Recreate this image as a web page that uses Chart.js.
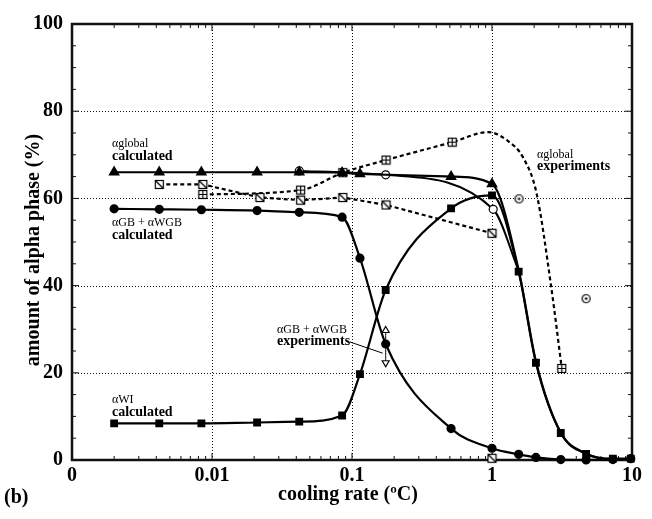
<!DOCTYPE html>
<html>
<head>
<meta charset="utf-8">
<style>
  html, body { margin: 0; padding: 0; background: #fff; }
  #wrap { width: 652px; height: 519px; }
</style>
</head>
<body>
<div id="wrap"><canvas id="chart" width="652" height="519"></canvas></div>

<script src="https://cdn.jsdelivr.net/npm/chart.js"></script>
<script>
// x tick positions and their printed labels (the axis starts at 0.001 printed as "0")
const xTickVals = [0.001, 0.01, 0.1, 1, 10];
const xTickLabels = ['0', '0.01', '0.1', '1', '10'];

// calculated curves (solid lines)
const calcRates = [0.002, 0.0042, 0.0084, 0.021, 0.042, 0.085, 0.114, 0.174, 0.51, 1.0, 1.55, 2.06, 3.1, 4.7, 7.3, 9.8];
const globalCalc = [66.0, 66.0, 66.0, 66.0, 66.0, 65.9, 65.6, null, 65.0, 63.3, 43.6, 22.6, 6.3, 1.5, 0.2, 0.2];
const gbCalc = [57.6, 57.5, 57.4, 57.2, 56.8, 55.7, 46.3, 26.6, 7.2, 2.7, 1.3, 0.6, 0.1, 0.0, 0.1, 0.3];
const wiCalc = [8.4, 8.4, 8.4, 8.6, 8.8, 10.2, 19.7, 39.0, 57.7, 60.7, 43.2, 22.3, 6.2, 1.4, 0.3, 0.3];

// open circle curve
const openRates = [0.042, 0.174, 1.02, 1.55];
const openVals = [66.3, 65.4, 57.5, 43.4];

// experiments, dashed
const expARates = [0.0042, 0.0086, 0.022, 0.043, 0.086, 0.175, 1.0];
const expAVals = [63.2, 63.2, 60.2, 59.6, 60.2, 58.5, 52.0];
const expBRates = [0.0086, 0.043, 0.086, 0.175, 0.52, 0.94, 1.27, 1.68, 2.08, 2.64, 3.15];
const expBVals = [60.9, 61.9, 65.9, 68.8, 72.9, 75.2, 73.4, 69.2, 61.2, 40.0, 21.0];
const expBMarked = [true, true, true, true, true, false, false, false, false, false, true];

// isolated experiment points
const dotRates = [1.56, 4.7];
const dotVals = [59.9, 37.0];
const barRates = [0.174, 0.174];
const barVals = [29.7, 22.3];
const smallRates = [1.0];
const smallVals = [0.4];

const pts = (xs, ys) => xs.map((x, i) => ({ x: x, y: ys[i] }));

function marker(kind) {
  const c = document.createElement('canvas');
  c.width = 11; c.height = 11;
  const g = c.getContext('2d');
  g.strokeStyle = '#000';
  g.lineWidth = 1.2;
  g.fillStyle = '#fff';
  if (kind === 'dot') {
    g.beginPath(); g.arc(5.5, 5.5, 4, 0, Math.PI * 2); g.fill(); g.stroke();
    g.fillStyle = '#000'; g.beginPath(); g.arc(5.5, 5.5, 1.3, 0, Math.PI * 2); g.fill();
    return c;
  }
  g.fillRect(1, 1, 9, 9);
  g.strokeRect(1.5, 1.5, 8, 8);
  g.beginPath();
  if (kind === 'slash') {
    g.moveTo(2, 2); g.lineTo(9, 9);
  } else {
    g.moveTo(5.5, 2); g.lineTo(5.5, 9); g.moveTo(2, 5.5); g.lineTo(9, 5.5);
  }
  g.stroke();
  return c;
}
const slashBox = marker('slash');
const plusBox = marker('plus');
const dotCircle = marker('dot');

const serif = '"Liberation Serif", "Times New Roman", serif';

// texts on the plot
const notes = [
  { t: '\u03b1global', x: 112, y: 144, bold: false },
  { t: 'calculated', x: 112, y: 156, bold: true },
  { t: '\u03b1GB + \u03b1WGB', x: 112, y: 223, bold: false },
  { t: 'calculated', x: 112, y: 235, bold: true },
  { t: '\u03b1WI', x: 112, y: 400, bold: false },
  { t: 'calculated', x: 112, y: 412, bold: true },
  { t: '\u03b1GB + \u03b1WGB', x: 277, y: 330, bold: false },
  { t: 'experiments', x: 277, y: 341, bold: true },
  { t: '\u03b1global', x: 537, y: 155, bold: false },
  { t: 'experiments', x: 537, y: 166, bold: true }
];

const framePlugin = {
  id: 'frame',
  beforeDatasetsDraw(chart) {
    const { ctx, chartArea: a, scales } = chart;
    ctx.save();
    // dotted grid
    ctx.strokeStyle = '#111';
    ctx.lineWidth = 1;
    ctx.setLineDash([1, 2]);
    ctx.beginPath();
    [0.01, 0.1, 1].forEach(v => {
      const px = Math.round(scales.x.getPixelForValue(v)) + 0.5;
      ctx.moveTo(px, a.top); ctx.lineTo(px, a.bottom);
    });
    [20, 40, 60, 80].forEach(v => {
      const py = Math.round(scales.y.getPixelForValue(v)) + 0.5;
      ctx.moveTo(a.left, py); ctx.lineTo(a.right, py);
    });
    ctx.stroke();
    ctx.setLineDash([]);
    ctx.beginPath();
    // minor ticks on x
    for (let e = -3; e <= 0; e++) {
      for (let k = 1; k <= 9; k++) {
        const v = k * Math.pow(10, e);
        const px = scales.x.getPixelForValue(v);
        const len = k === 1 ? 7 : 4;
        ctx.moveTo(px, a.bottom); ctx.lineTo(px, a.bottom - len);
        ctx.moveTo(px, a.top); ctx.lineTo(px, a.top + len);
      }
    }
    // minor ticks on y
    for (let v = 0; v <= 100; v += 5) {
      const py = scales.y.getPixelForValue(v);
      const len = v % 20 === 0 ? 7 : 4;
      ctx.moveTo(a.left, py); ctx.lineTo(a.left + len, py);
      ctx.moveTo(a.right, py); ctx.lineTo(a.right - len, py);
    }
    ctx.stroke();
    ctx.lineWidth = 2.5;
    ctx.strokeRect(a.left, a.top, a.right - a.left, a.bottom - a.top);
    ctx.restore();
  },
  afterDraw(chart) {
    const { ctx, chartArea: a, scales } = chart;
    ctx.save();
    ctx.fillStyle = '#000';
    ctx.textBaseline = 'middle';
    ctx.textAlign = 'left';
    notes.forEach(n => {
      ctx.font = (n.bold ? 'bold 14px ' : '12px ') + serif;
      ctx.fillText(n.t, n.x, n.y);
    });
    // leader line to the error bar
    ctx.strokeStyle = '#000';
    ctx.lineWidth = 1;
    ctx.beginPath();
    ctx.moveTo(350, 342);
    ctx.lineTo(scales.x.getPixelForValue(0.174) - 3, scales.y.getPixelForValue(24.5));
    ctx.stroke();
    // axis titles
    ctx.font = 'bold 20px ' + serif;
    ctx.textAlign = 'center';
    ctx.fillText('cooling rate (\u00baC)', (a.left + a.right) / 2 - 4, 495);
    ctx.textAlign = 'left';
    ctx.fillText('(b)', 4, 498);
    ctx.translate(34, (a.top + a.bottom) / 2 + 8);
    ctx.rotate(-Math.PI / 2);
    ctx.textAlign = 'center';
    ctx.fillText('amount of alpha phase (%)', 0, 0);
    ctx.restore();
  }
};

const solid = { borderColor: '#000', backgroundColor: '#000', pointBorderColor: '#000', pointBackgroundColor: '#000', borderWidth: 2.2, cubicInterpolationMode: 'monotone', clip: false, spanGaps: true };

new Chart(document.getElementById('chart'), {
  type: 'line',
  data: {
    datasets: [
      Object.assign({}, solid, {
        label: 'alpha global calculated', data: pts(calcRates, globalCalc),
        pointStyle: 'triangle', pointRadius: ctx => ctx.dataIndex > 9 ? 0 : 4.5
      }),
      Object.assign({}, solid, {
        label: 'alpha GB + WGB calculated', data: pts(calcRates, gbCalc),
        pointStyle: 'circle', pointRadius: 3.5
      }),
      Object.assign({}, solid, {
        label: 'alpha WI calculated', data: pts(calcRates, wiCalc),
        pointStyle: 'rect', pointRadius: 4
      }),
      Object.assign({}, solid, {
        label: 'open circles', data: pts(openRates, openVals), borderWidth: 2,
        pointStyle: 'circle', pointBackgroundColor: '#fff', pointBorderWidth: 1.2,
        pointRadius: ctx => ctx.dataIndex === 3 ? 0 : 4
      }),
      Object.assign({}, solid, {
        label: 'exp slash', data: pts(expARates, expAVals), borderDash: [4, 3],
        pointStyle: slashBox, cubicInterpolationMode: 'default'
      }),
      Object.assign({}, solid, {
        label: 'alpha global experiments', data: pts(expBRates, expBVals), borderDash: [4, 3],
        pointStyle: ctx => expBMarked[ctx.dataIndex] ? plusBox : 'circle',
        pointRadius: ctx => expBMarked[ctx.dataIndex] ? 5 : 0
      }),
      Object.assign({}, solid, {
        label: 'dots', data: pts(dotRates, dotVals), showLine: false, pointStyle: dotCircle, pointRadius: 5
      }),
      Object.assign({}, solid, {
        label: 'alpha GB + WGB experiments', data: pts(barRates, barVals), borderWidth: 1,
        pointStyle: 'triangle', pointRotation: [0, 180], pointBackgroundColor: '#fff',
        pointBorderWidth: 1.2, pointRadius: 4
      }),
      Object.assign({}, solid, {
        label: 'small', data: pts(smallRates, smallVals), showLine: false, pointStyle: slashBox, pointRadius: 4
      })
    ]
  },
  options: {
    responsive: false,
    animation: false,
    devicePixelRatio: 1,
    layout: { padding: { top: 24, right: 20, left: 0, bottom: 0 } },
    plugins: { legend: { display: false }, tooltip: { enabled: false } },
    scales: {
      x: {
        type: 'logarithmic', min: 0.001, max: 10,
        afterBuildTicks: s => { s.ticks = xTickVals.map(v => ({ value: v })); },
        afterFit: s => { s.height = 59; },
        ticks: {
          autoSkip: false, maxRotation: 0, padding: 4, color: '#000',
          font: { family: serif, size: 20, weight: 'bold' },
          callback: (v, i) => xTickLabels[i]
        },
        grid: { display: false, drawTicks: false },
        border: { display: false }
      },
      y: {
        min: 0, max: 100,
        afterFit: s => { s.width = 72; },
        ticks: {
          stepSize: 20, padding: 9, color: '#000',
          font: { family: serif, size: 20, weight: 'bold' }
        },
        grid: { display: false, drawTicks: false },
        border: { display: false }
      }
    }
  },
  plugins: [framePlugin]
});
</script>
</body>
</html>
